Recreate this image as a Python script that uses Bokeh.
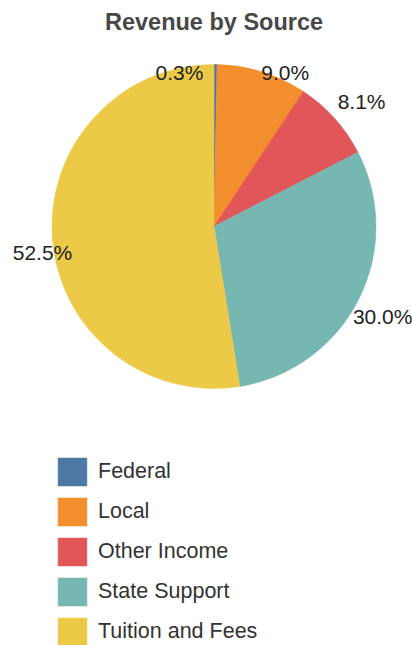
import math
from bokeh.plotting import figure
from bokeh.models import ColumnDataSource, Range1d
from bokeh.core.properties import value
from bokeh.embed import file_html
from bokeh.resources import INLINE

# ---- data ----
categories = ["Federal", "Local", "Other Income", "State Support", "Tuition and Fees"]
shares = [0.3, 9.0, 8.1, 30.0, 52.5]
palette = ["#4E79A7", "#F28E2B", "#E15759", "#76B7B2", "#EDC948"]
title_text = "Revenue by Source"

# ---- layout / style constants ----
W, H = 412, 645
CX, CY, R = 213.5, 419.0, 162.0
FONT = "Liberation Sans"
# label nudges (pixels, right / down) relative to each slice's outer-arc midpoint
label_nudge = [(-36, 8), (23, 1), (27, -17), (24, 17), (-10, 13)]

total = sum(shares)
starts, ends, mids = [], [], []
cum = 0.0
for v in shares:
    a0 = math.pi / 2 - 2 * math.pi * cum / total
    cum += v
    a1 = math.pi / 2 - 2 * math.pi * cum / total
    starts.append(a0)
    ends.append(a1)
    mids.append((a0 + a1) / 2)

src = ColumnDataSource(dict(category=categories, start=starts, end=ends, color=palette))

lx, ly, lt = [], [], []
for v, m, (dx, dy) in zip(shares, mids, label_nudge):
    lx.append(CX + R * math.cos(m) + dx)
    ly.append(CY + R * math.sin(m) - dy)
    lt.append(f"{v:.1f}%")
lsrc = ColumnDataSource(dict(x=lx, y=ly, text=lt))

p = figure(width=W, height=H, x_range=Range1d(0, W), y_range=Range1d(0, H),
           output_backend="svg", toolbar_location=None, min_border=0,
           x_axis_location=None, y_axis_location=None)
p.grid.visible = False
p.outline_line_color = None
p.background_fill_color = "white"
p.border_fill_color = "white"

p.wedge(x=CX, y=CY, radius=R, start_angle="start", end_angle="end", direction="clock",
        fill_color="color", line_color="color", line_width=0.5, source=src,
        legend_field="category")

p.text(x="x", y="y", text="text", source=lsrc, text_font=value(FONT), text_font_size="21px",
       text_align="center", text_baseline="middle", text_color="#222222")

p.text(x=[CX], y=[H - 21], text=[title_text], text_font=value(FONT), text_font_size="23.5px",
       text_font_style="bold", text_align="center", text_baseline="middle", text_color="#474747")

lg = p.legend[0]
lg.location = (54, -4)
lg.orientation = "vertical"
lg.padding = 0
lg.margin = 0
lg.spacing = 5
lg.glyph_width = 36
lg.glyph_height = 35
lg.label_standoff = 8
lg.label_text_font = FONT
lg.label_text_font_size = "21.5px"
lg.label_text_color = "#333333"
lg.border_line_color = None
lg.background_fill_alpha = 0

open("out.html", "w").write(file_html(p, INLINE))
